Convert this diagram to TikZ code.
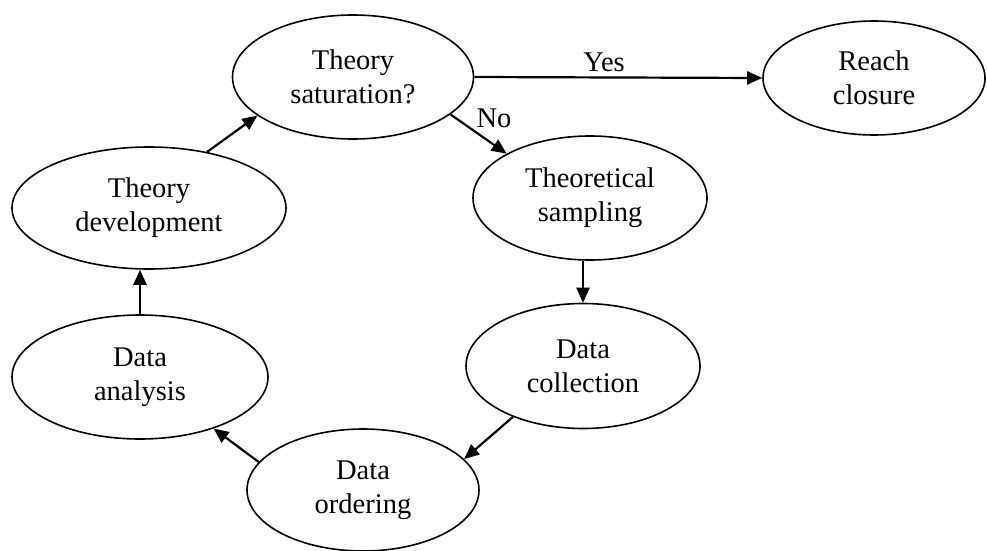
\documentclass[tikz,border=0pt]{standalone}
\usepackage{fontspec}
\setmainfont{Liberation Serif}
\usetikzlibrary{shapes.geometric,arrows.meta}

\tikzset{
  stage/.style={ellipse, draw, line width=1.6pt, inner sep=0pt, align=center,
    font=\fontsize{28.5pt}{34pt}\selectfont},
  flow/.style={line width=2.2pt, -{Triangle[length=15pt,width=13pt]}},
  tag/.style={font=\fontsize{28.5pt}{34pt}\selectfont, inner sep=0pt}
}

\begin{document}
\begin{tikzpicture}[x=1pt,y=-1pt]
  \useasboundingbox (0,0) rectangle (987,551);

  % stages of the cycle
  \node[stage, minimum width=241pt, minimum height=124pt] (ts)  at (353,77)  {Theory\\saturation?};
  \node[stage, minimum width=222pt, minimum height=114pt] (rc)  at (874,78)  {Reach\\closure};
  \node[stage, minimum width=274pt, minimum height=122pt] (td)  at (149,208) {Theory\\development};
  \node[stage, minimum width=234pt, minimum height=124pt] (tsp) at (590,198) {Theoretical\\sampling};
  \node[stage, minimum width=234pt, minimum height=125pt] (dc)  at (583,366) {Data\\collection};
  \node[stage, minimum width=256pt, minimum height=124pt] (da)  at (140,377) {Data\\analysis};
  \node[stage, minimum width=232pt, minimum height=122pt] (do)  at (363,490) {Data\\ordering};

  % connectors
  \draw[flow] (ts.east) -- (rc.west);
  \draw[flow] (ts.-21) -- (tsp.152);
  \draw[flow] (tsp.south -| dc.north) -- (dc.north);
  \draw[flow] (dc.216) -- (do.17);
  \draw[flow] (do.165) -- (da.-35);
  \draw[flow] (da.north) -- (da.north |- td.south);
  \draw[flow] (td.44) -- (ts.202);

  % branch labels
  \node[tag] (yes) at (604,62) {Yes};
  \node[tag] (no)  at (494,118) {No};
\end{tikzpicture}
\end{document}
